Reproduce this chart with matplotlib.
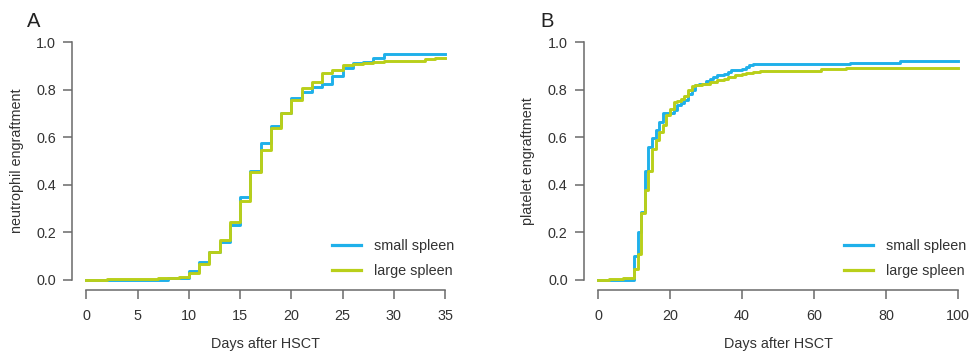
import matplotlib
matplotlib.use("Agg")
import matplotlib.pyplot as plt

plt.rcParams['font.family'] = ['Liberation Sans', 'DejaVu Sans']

# ---- Panel A: neutrophil engraftment ----
a_small_days = [0, 8, 10, 11, 12, 13, 14, 15, 16, 17, 18, 19, 20, 21, 22, 23, 24, 25, 26, 27, 28, 29, 35]
a_small_vals = [0, 0.008, 0.039, 0.074, 0.119, 0.161, 0.231, 0.35, 0.458, 0.574, 0.647, 0.70, 0.763,
                0.789, 0.812, 0.824, 0.858, 0.892, 0.91, 0.917, 0.931, 0.948, 0.948]
a_large_days = [0, 2, 7, 9, 10, 11, 12, 13, 14, 15, 16, 17, 18, 19, 20, 21, 22, 23, 24, 25, 26, 27,
                28, 29, 33, 34, 35]
a_large_vals = [0, 0.004, 0.008, 0.014, 0.028, 0.067, 0.119, 0.168, 0.245, 0.333, 0.455, 0.545, 0.64,
                0.703, 0.756, 0.805, 0.833, 0.868, 0.882, 0.903, 0.906, 0.913, 0.917, 0.921, 0.927,
                0.933, 0.933]

# ---- Panel B: platelet engraftment ----
b_small_days = [0, 10, 11, 12, 13, 14, 15, 16, 17, 18, 21, 22, 23, 24, 25, 26, 27, 28, 30, 31, 32,
                33, 35, 36, 37, 40, 41, 42, 43, 70, 84, 100]
b_small_vals = [0, 0.10, 0.20, 0.285, 0.46, 0.557, 0.598, 0.632, 0.665, 0.70, 0.715, 0.735, 0.745,
                0.755, 0.78, 0.80, 0.82, 0.825, 0.835, 0.845, 0.855, 0.862, 0.866, 0.875, 0.882,
                0.886, 0.895, 0.902, 0.909, 0.913, 0.922, 0.922]
b_large_days = [0, 3, 7, 10, 11, 12, 13, 14, 15, 16, 17, 18, 19, 20, 21, 22, 23, 24, 25, 26, 27, 29,
                31, 33, 35, 36, 38, 40, 41, 43, 45, 62, 69, 100]
b_large_vals = [0, 0.005, 0.01, 0.045, 0.11, 0.28, 0.38, 0.46, 0.55, 0.59, 0.622, 0.651, 0.695, 0.72,
                0.746, 0.752, 0.76, 0.775, 0.80, 0.815, 0.82, 0.825, 0.83, 0.84, 0.845, 0.855, 0.86,
                0.865, 0.87, 0.875, 0.88, 0.885, 0.89, 0.89]

a_xticks = [0, 5, 10, 15, 20, 25, 30, 35]
b_xticks = [0, 20, 40, 60, 80, 100]
yticks = [0.0, 0.2, 0.4, 0.6, 0.8, 1.0]
series_labels = ["small spleen", "large spleen"]

BLUE = "#1FB0EA"
GREEN = "#B9CF1A"
SPINE = "#6a6a6a"
TXT = "#333333"
FS = 10.4

W, H = 969, 354
fig = plt.figure(figsize=(W / 100, H / 100), dpi=100)


def make_ax(left_px, right_px, top_px, bottom_px):
    return fig.add_axes([left_px / W, 1 - bottom_px / H, (right_px - left_px) / W, (bottom_px - top_px) / H])


def style(ax, xmax, xticks, ylabel, letter, letter_x):
    ax.set_xlim(-0.04 * xmax, 1.04 * xmax)
    ax.set_ylim(-0.04, 1.04)
    for s in ['top', 'right']:
        ax.spines[s].set_visible(False)
    ax.spines['left'].set_bounds(0, 1)
    ax.spines['bottom'].set_bounds(0, xmax)
    for s in ['left', 'bottom']:
        ax.spines[s].set_color(SPINE)
        ax.spines[s].set_linewidth(1.1)
    ax.set_xticks(xticks)
    ax.set_xticklabels([str(t) for t in xticks])
    ax.set_yticks(yticks)
    ax.set_yticklabels([f"{t:.1f}" for t in yticks])
    ax.tick_params(axis='both', colors=SPINE, labelcolor=TXT, labelsize=FS, length=6.5, width=1.1)
    ax.tick_params(axis='x', pad=7.5)
    ax.tick_params(axis='y', pad=5.0)
    ax.set_xlabel("Days after HSCT", fontsize=FS, color=TXT, labelpad=10)
    ax.set_ylabel(ylabel, fontsize=FS, color=TXT, labelpad=9)
    ax.set_facecolor('none')
    fig.text(letter_x / W, 1 - 12 / H, letter, fontsize=14.5, color='#222222', va='top', ha='left')


axA = make_ax(72, 459.4, 32.5, 289.5)
axA.step(a_small_days, a_small_vals, where='post', color=BLUE, lw=2.1, label=series_labels[0])
axA.step(a_large_days, a_large_vals, where='post', color=GREEN, lw=2.1, label=series_labels[1])
style(axA, 35, a_xticks, "neutrophil engraftment", "A", 27)

axB = make_ax(583.6, 972.4, 32.5, 289.5)
axB.step(b_small_days, b_small_vals, where='post', color=BLUE, lw=2.1, label=series_labels[0])
axB.step(b_large_days, b_large_vals, where='post', color=GREEN, lw=2.1, label=series_labels[1])
style(axB, 100, b_xticks, "platelet engraftment", "B", 540)

for ax, anchor in [(axA, (0.986, 0.045)), (axB, (0.985, 0.045))]:
    leg = ax.legend(loc='lower right', bbox_to_anchor=anchor, frameon=False, fontsize=FS,
                    handlelength=2.0, handletextpad=0.9, labelspacing=0.75, borderpad=0,
                    borderaxespad=0)
    for t in leg.get_texts():
        t.set_color(TXT)
    for l in leg.get_lines():
        l.set_linewidth(2.3)

fig.savefig("out.png", dpi=100)
